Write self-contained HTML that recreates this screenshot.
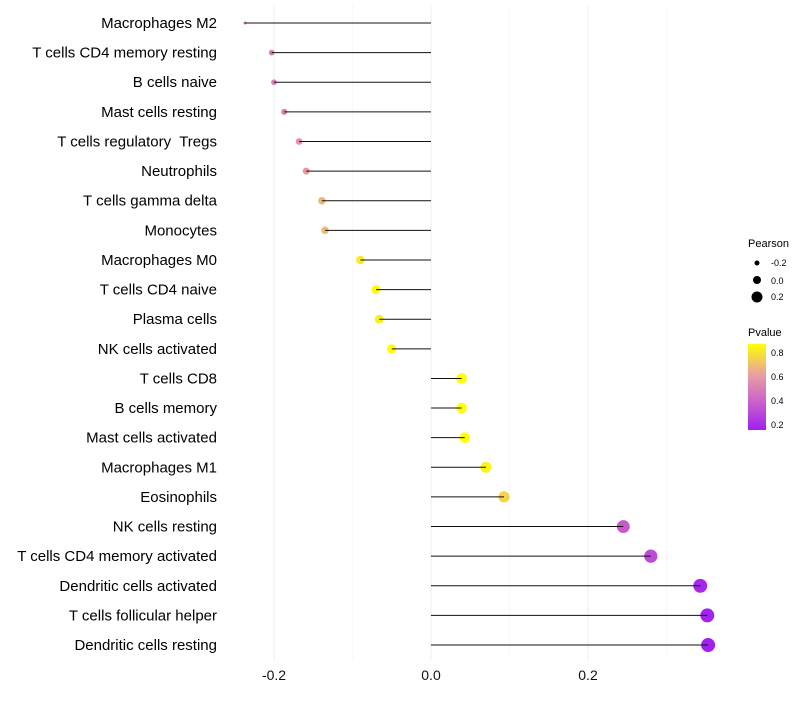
<!DOCTYPE html>
<html><head><meta charset="utf-8"><style>
body{margin:0;background:#fff;font-family:"Liberation Sans",sans-serif}
</style></head><body>
<svg id="chart" width="800" height="700" xmlns="http://www.w3.org/2000/svg">
<defs><linearGradient id="pg" x1="0" y1="1" x2="0" y2="0">
<stop offset="0" stop-color="#a020f0"/><stop offset="0.35" stop-color="#cc66c8"/><stop offset="0.65" stop-color="#eaa0a0"/><stop offset="1" stop-color="#ffff00"/></linearGradient></defs>
<g id="grid"></g><g id="marks"></g><g id="labels"></g>
<g font-size="10" fill="#000">
<text x="748" y="247" font-size="11">Pearson</text>
<circle cx="757" cy="263" r="2.5" fill="#000"/><text x="771" y="266" font-size="9">-0.2</text>
<circle cx="757" cy="280" r="4" fill="#000"/><text x="771" y="284" font-size="9">0.0</text>
<circle cx="757" cy="297" r="5.5" fill="#000"/><text x="771" y="300" font-size="9">0.2</text>
<text x="748" y="336" font-size="11">Pvalue</text>
<rect x="748" y="344" width="18" height="86" fill="url(#pg)"/>
<text x="771" y="356" font-size="9">0.8</text><text x="771" y="380" font-size="9">0.6</text>
<text x="771" y="404" font-size="9">0.4</text><text x="771" y="428" font-size="9">0.2</text>
</g>
</svg>
<script>
const categories=["Macrophages M2","T cells CD4 memory resting","B cells naive","Mast cells resting","T cells regulatory  Tregs","Neutrophils","T cells gamma delta","Monocytes","Macrophages M0","T cells CD4 naive","Plasma cells","NK cells activated","T cells CD8","B cells memory","Mast cells activated","Macrophages M1","Eosinophils","NK cells resting","T cells CD4 memory activated","Dendritic cells activated","T cells follicular helper","Dendritic cells resting"];
const pearson=[-0.237,-0.203,-0.200,-0.187,-0.168,-0.159,-0.139,-0.135,-0.090,-0.070,-0.066,-0.050,0.039,0.039,0.043,0.070,0.093,0.245,0.280,0.343,0.352,0.353];
const pvalue=[0.44,0.48,0.48,0.50,0.56,0.58,0.66,0.68,0.80,0.84,0.82,0.85,0.87,0.87,0.86,0.83,0.74,0.36,0.31,0.19,0.17,0.16];
const xTicks=[-0.2,0,0.2];
const xTickLabels=["-0.2","0.0","0.2"];
const NS="http://www.w3.org/2000/svg";
const x=v=>431+v*785;
const y=i=>23+i*29.62;
const vmin=Math.min(...pearson),vmax=Math.max(...pearson);
const rad=v=>1.5+5.5*Math.sqrt((v-vmin)/(vmax-vmin));
function mk(t,a,p){const e=document.createElementNS(NS,t);for(const k in a)e.setAttribute(k,a[k]);p.appendChild(e);return e;}
const stops=[[0.16,[160,32,240]],[0.4,[204,102,200]],[0.6,[234,160,160]],[0.86,[255,255,0]]];
function col(p){p=Math.max(0.16,Math.min(0.86,p));for(let i=0;i<stops.length-1;i++){const[a,c1]=stops[i],[b,c2]=stops[i+1];if(p<=b){const t=(p-a)/(b-a);return "rgb("+c1.map((c,j)=>Math.round(c+(c2[j]-c)*t)).join(",")+")";}}return "rgb(255,255,0)";}
const grid=document.getElementById('grid'),marks=document.getElementById('marks'),labels=document.getElementById('labels');
[-0.1,0.1,0.3].forEach(v=>{const l=mk('line',{x1:x(v),x2:x(v),y1:5,y2:660,stroke:'#f4f4f4','stroke-width':0.6},grid);});
xTicks.forEach((v,i)=>{const l=mk('line',{x1:x(v),x2:x(v),y1:5,y2:660,stroke:'#eeeeee','stroke-width':1},grid);
const t=mk('text',{x:x(v),y:680,'text-anchor':'middle','font-size':14,fill:'#111'},labels);t.textContent=xTickLabels[i];});
categories.forEach((c,i)=>{
const pt=mk('circle',{cx:x(pearson[i]),cy:y(i),r:rad(pearson[i]),fill:col(pvalue[i])},marks);
const ln=mk('line',{x1:x(pearson[i]),x2:x(0),y1:y(i),y2:y(i),stroke:'#111','stroke-width':1},marks);
const t=mk('text',{x:217,y:y(i)+5,'text-anchor':'end','font-size':15,fill:'#000'},labels);t.setAttribute('xml:space','preserve');t.style.whiteSpace='pre';t.textContent=c;
});
</script>
</body></html>
